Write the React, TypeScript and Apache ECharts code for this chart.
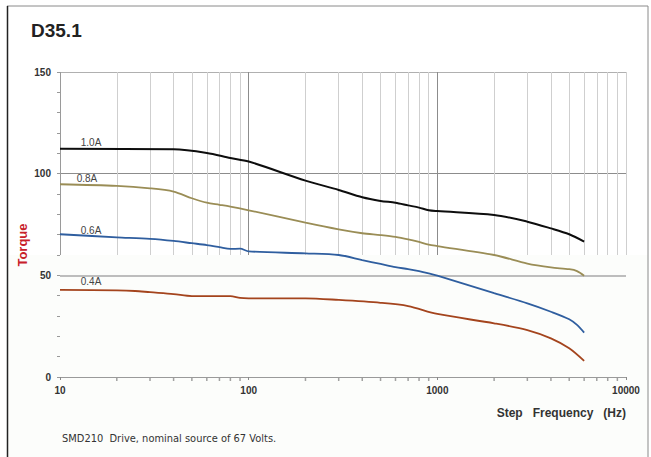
import React, { useEffect, useRef } from "react";
import * as echarts from "echarts";

const freq10 = [10, 40, 60, 80, 100, 200, 300, 400, 500, 600, 700, 800, 900, 1000, 2000, 3000, 4000, 5000, 6000];
const torque10 = [112.2, 112, 110.2, 107.7, 106, 96.6, 92, 88.4, 86.6, 85.7, 84.4, 83.3, 82, 81.6, 79.7, 76.4, 73.1, 70.2, 66.6];

const freq08 = [10, 20, 30, 40, 50, 60, 70, 80, 100, 200, 300, 400, 500, 600, 700, 800, 900, 1000, 2000, 3000, 4000, 5000, 5500, 6000];
const torque08 = [94.8, 94, 92.8, 91.2, 87.9, 85.7, 84.7, 83.8, 82, 75.9, 72.6, 70.7, 69.8, 68.9, 67.7, 66.4, 65.1, 64.4, 60, 55.8, 53.9, 53, 52.1, 49.8];

const freq06 = [10, 20, 30, 40, 50, 60, 70, 80, 90, 100, 200, 300, 400, 500, 600, 700, 800, 900, 1000, 2000, 3000, 4000, 5000, 5500, 6000];
const torque06 = [70.2, 68.7, 67.9, 66.9, 65.8, 64.9, 63.9, 63, 63.1, 61.8, 60.8, 60, 57.5, 55.6, 54, 53.1, 52.1, 51, 49.9, 41.2, 36.2, 32.1, 28.4, 25.6, 21.8];

const freq04 = [10, 20, 25, 30, 40, 50, 80, 90, 100, 200, 300, 500, 700, 1000, 2000, 3000, 4000, 5000, 6000];
const torque04 = [42.8, 42.6, 42.3, 41.7, 40.8, 39.8, 39.8, 38.9, 38.7, 38.7, 37.9, 36.5, 34.9, 31, 26.4, 23.1, 19, 14.1, 7.9];

const seriesNames = ["1.0A", "0.8A", "0.6A", "0.4A"];
const seriesColors = ["#0d0d0d", "#9a8d56", "#2f5e9f", "#a4441d"];
const labelFreq = [14.6, 13.9, 14.6, 14.6];
const labelOffset = [-6, -6, -4, -8];

const majorFreqs = [100, 1000];
const minorFreqs = [20, 30, 40, 50, 60, 70, 80, 90, 200, 300, 400, 500, 600, 700, 800, 900, 2000, 3000, 4000, 5000, 6000, 7000, 8000, 9000];
const gridLow = 60;
const gridHigh = 150;

const zip = (xs: number[], ys: number[]) => xs.map((x, i) => [x, ys[i]]);

export default function App() {
  const ref = useRef<HTMLDivElement>(null);
  useEffect(() => {
    document.body.style.margin = "0";
    const chart = echarts.init(ref.current!, null, { renderer: "svg" });
    const dataSets = [zip(freq10, torque10), zip(freq08, torque08), zip(freq06, torque06), zip(freq04, torque04)];

    const ls = (color: string, width: number) => ({ color, width, type: "solid" });
    const gridLines: any[] = [];
    minorFreqs.forEach((f) => gridLines.push([{ coord: [f, gridLow], lineStyle: ls("#cfcfcf", 1) }, { coord: [f, gridHigh] }]));
    majorFreqs.forEach((f) => gridLines.push([{ coord: [f, gridLow], lineStyle: ls("#8c8c8c", 1) }, { coord: [f, gridHigh] }]));
    gridLines.push([{ coord: [10000, gridLow], lineStyle: ls("#cfcfcf", 1) }, { coord: [10000, gridHigh] }]);
    gridLines.push([{ coord: [10, gridLow], lineStyle: ls("#9a9a9a", 1) }, { coord: [10, gridHigh] }]);
    gridLines.push([{ coord: [10, 50], lineStyle: ls("#bdbdbd", 2) }, { coord: [10000, 50] }]);

    const series: any[] = dataSets.map((d, i) => ({
      type: "line",
      name: seriesNames[i],
      data: d,
      showSymbol: false,
      smooth: 0.3,
      z: 5,
      lineStyle: { color: seriesColors[i], width: i === 0 ? 2 : 1.8 },
      itemStyle: { color: seriesColors[i] },
      markPoint: {
        silent: true,
        symbol: "circle",
        symbolSize: 0,
        itemStyle: { color: "transparent" },
        label: {
          show: true,
          position: "inside",
          offset: [0, labelOffset[i]],
          color: "#444",
          fontSize: 10,
          fontFamily: "Liberation Sans, Arial, sans-serif",
          formatter: seriesNames[i],
        },
        data: [{ coord: [labelFreq[i], d[0][1]] }],
      },
    }));
    series.push({
      type: "line",
      data: [],
      silent: true,
      z: 1,
      markLine: {
        silent: true,
        symbol: ["none", "none"],
        label: { show: false },
        lineStyle: { type: "solid" },
        data: gridLines,
      },
    });
    series.push({
      type: "scatter",
      silent: true,
      data: minorFreqs.map((f) => [f, 0]),
      symbol: "rect",
      symbolSize: [1.5, 3],
      symbolOffset: [0, 2.5],
      itemStyle: { color: "#8a8a8a" },
      z: 3,
    });

    chart.setOption({
      animation: false,
      grid: { left: 60, right: 25, top: 72, bottom: 80 },
      xAxis: {
        type: "log",
        logBase: 10,
        min: 10,
        max: 10000,
        axisLine: { show: true, lineStyle: { color: "#9a9a9a", width: 1 } },
        axisTick: { show: true, length: 3, lineStyle: { color: "#8a8a8a" } },
        splitLine: { show: false },
        minorTick: { show: false },
        axisLabel: {
          margin: 8,
          color: "#333",
          fontSize: 10,
          fontWeight: "bold",
          fontFamily: "Liberation Sans, Arial, sans-serif",
          formatter: (v: number) => String(Math.round(v)),
        },
      },
      yAxis: {
        type: "value",
        min: 0,
        max: 150,
        interval: 50,
        axisLine: { show: false },
        axisTick: { show: true, length: 3, lineStyle: { color: "#999" } },
        minorTick: { show: true, splitNumber: 5, length: 3, lineStyle: { color: "#999" } },
        splitLine: { show: true, lineStyle: { color: ["#9a9a9a", "#bdbdbd", "#8c8c8c", "#b0b0b0"], width: 1 } },
        axisLabel: {
          margin: 9,
          color: "#333",
          fontSize: 10,
          fontWeight: "bold",
          fontFamily: "Liberation Sans, Arial, sans-serif",
        },
      },
      graphic: [
        { type: "rect", z: -100, shape: { x: 8, y: 255, width: 640, height: 210 }, style: { fill: "#fcfdfb" }, silent: true },
        { type: "line", shape: { x1: 7, y1: 6, x2: 648, y2: 6 }, style: { stroke: "#8a8a8a", lineWidth: 1 } },
        { type: "line", shape: { x1: 7.5, y1: 6, x2: 7.5, y2: 457 }, style: { stroke: "#222", lineWidth: 1.5 } },
        { type: "line", shape: { x1: 648, y1: 6, x2: 648, y2: 457 }, style: { stroke: "#8a8a8a", lineWidth: 1 } },
        {
          type: "text",
          x: 31,
          y: 30,
          style: { text: "D35.1", fill: "#222", font: "bold 19px 'Liberation Sans', Arial, sans-serif", verticalAlign: "middle" },
        },
        {
          type: "text",
          x: 22,
          y: 245,
          rotation: Math.PI / 2,
          style: {
            text: "Torque",
            fill: "#c8202a",
            font: "bold 13px 'Liberation Sans', Arial, sans-serif",
            align: "center",
            verticalAlign: "middle",
          },
        },
        {
          type: "text",
          x: 626,
          y: 413,
          style: {
            text: "Step   Frequency   (Hz)",
            fill: "#333",
            font: "bold 12px 'Liberation Sans', Arial, sans-serif",
            align: "right",
            verticalAlign: "middle",
          },
        },
        {
          type: "text",
          x: 62,
          y: 438,
          style: {
            text: "SMD210  Drive, nominal source of 67 Volts.",
            fill: "#333",
            font: "9.9px 'DejaVu Sans', sans-serif",
            verticalAlign: "middle",
          },
        },
      ],
      series,
    });
    return () => chart.dispose();
  }, []);
  return <div ref={ref} style={{ width: 651, height: 457 }} />;
}
